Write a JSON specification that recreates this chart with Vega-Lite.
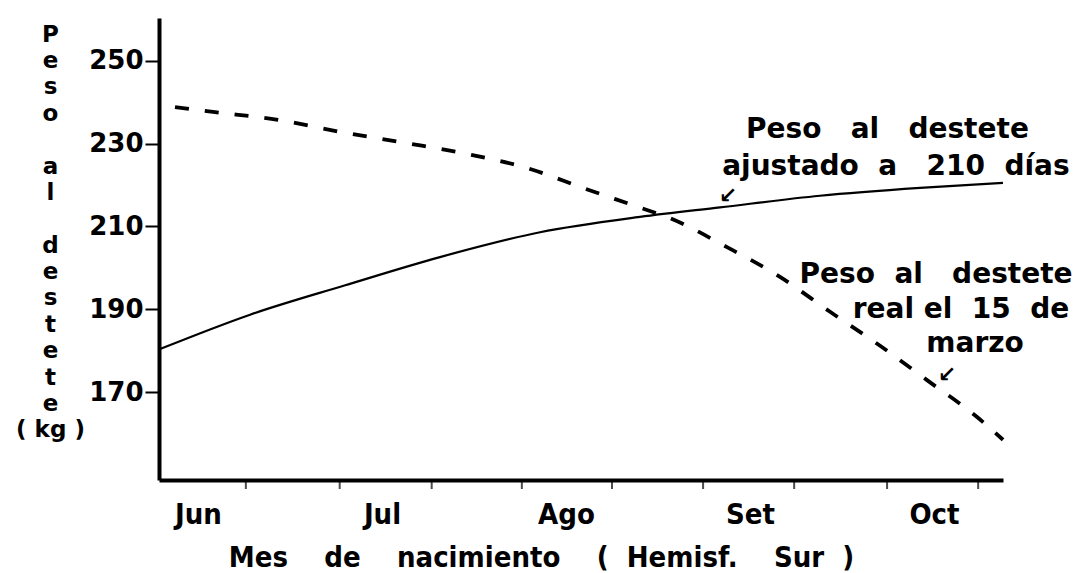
{
  "$schema": "https://vega.github.io/schema/vega-lite/v6.json",
  "width": 844,
  "height": 462,
  "autosize": {"type": "none"},
  "padding": {"left": 159, "top": 18, "right": 75, "bottom": 93},
  "background": "white",
  "config": {"view": {"stroke": null}, "font": "DejaVu Sans"},
  "datasets": {
    "curves": [
      {"serie": "ajustado", "mes": -0.207, "peso": 180.4},
      {"serie": "ajustado", "mes": 0.283, "peso": 188.7},
      {"serie": "ajustado", "mes": 0.8, "peso": 195.8},
      {"serie": "ajustado", "mes": 1.315, "peso": 202.6},
      {"serie": "ajustado", "mes": 1.859, "peso": 208.6},
      {"serie": "ajustado", "mes": 2.402, "peso": 212.3},
      {"serie": "ajustado", "mes": 2.837, "peso": 214.6},
      {"serie": "ajustado", "mes": 3.38, "peso": 217.4},
      {"serie": "ajustado", "mes": 3.924, "peso": 219.3},
      {"serie": "ajustado", "mes": 4.375, "peso": 220.5},
      {"serie": "real", "mes": -0.125, "peso": 238.8},
      {"serie": "real", "mes": 0.092, "peso": 237.6},
      {"serie": "real", "mes": 0.435, "peso": 235.7},
      {"serie": "real", "mes": 0.788, "peso": 232.7},
      {"serie": "real", "mes": 1.136, "peso": 230.1},
      {"serie": "real", "mes": 1.462, "peso": 227.5},
      {"serie": "real", "mes": 1.788, "peso": 224.1},
      {"serie": "real", "mes": 2.092, "peso": 219.3},
      {"serie": "real", "mes": 2.391, "peso": 214.7},
      {"serie": "real", "mes": 2.565, "peso": 212.0},
      {"serie": "real", "mes": 2.875, "peso": 205.0},
      {"serie": "real", "mes": 3.163, "peso": 197.8},
      {"serie": "real", "mes": 3.435, "peso": 189.4},
      {"serie": "real", "mes": 3.707, "peso": 181.2},
      {"serie": "real", "mes": 3.962, "peso": 172.9},
      {"serie": "real", "mes": 4.234, "peso": 164.0},
      {"serie": "real", "mes": 4.375, "peso": 158.5}
    ],
    "minorTicks": [
      {"mes": 0.26}, {"mes": 0.77}, {"mes": 1.27}, {"mes": 1.76}, {"mes": 2.25},
      {"mes": 2.745}, {"mes": 3.24}, {"mes": 3.745}, {"mes": 4.24}
    ],
    "notes": [
      {"mes": 3.747, "peso": 231.3, "texto": "Peso\u00a0\u00a0\u00a0al\u00a0\u00a0\u00a0destete"},
      {"mes": 3.793, "peso": 222.4, "texto": "ajustado\u00a0\u00a0a\u00a0\u00a0\u00a0210\u00a0\u00a0días"},
      {"mes": 4.011, "peso": 196.3, "texto": "Peso\u00a0\u00a0al\u00a0\u00a0\u00a0destete"},
      {"mes": 4.147, "peso": 187.9, "texto": "real\u00a0el\u00a0\u00a015\u00a0\u00a0de"},
      {"mes": 4.223, "peso": 179.7, "texto": "marzo"}
    ],
    "arrows": [
      {"mes": 2.88, "peso": 217.4, "texto": "↙"},
      {"mes": 4.07, "peso": 174.2, "texto": "↙"}
    ]
  },
  "layer": [
    {
      "data": {"name": "curves"},
      "transform": [{"filter": "datum.serie === 'ajustado'"}],
      "mark": {"type": "line", "color": "black", "strokeWidth": 2.2, "interpolate": "monotone"},
      "encoding": {
        "x": {
          "field": "mes",
          "type": "quantitative",
          "scale": {"domain": [-0.212, 4.375], "nice": false, "zero": false},
          "axis": {
            "title": "Mes\u00a0\u00a0\u00a0\u00a0de\u00a0\u00a0\u00a0\u00a0nacimiento\u00a0\u00a0\u00a0\u00a0(\u00a0\u00a0Hemisf.\u00a0\u00a0\u00a0\u00a0Sur\u00a0\u00a0)",
            "values": [0, 1, 2, 3, 4],
            "labelExpr": "['Jun','Jul','Ago','Set','Oct'][datum.value]",
            "ticks": false,
            "tickSize": 0,
            "grid": false,
            "domainColor": "black",
            "domainWidth": 4,
            "labelFont": "Liberation Sans Narrow, DejaVu Sans Condensed, Liberation Sans",
            "labelFontSize": 29,
            "labelFontWeight": "bold",
            "labelColor": "black",
            "labelPadding": 20,
            "labelFlush": false,
            "labelOverlap": false,
            "titleFont": "Liberation Sans Narrow, DejaVu Sans Condensed, Liberation Sans",
            "titleFontSize": 29,
            "titleFontWeight": "bold",
            "titleColor": "black",
            "titleAlign": "center",
            "titleBaseline": "alphabetic",
            "titleX": 382,
            "titleY": 86
          }
        },
        "y": {
          "field": "peso",
          "type": "quantitative",
          "scale": {"domain": [148.8, 260.3], "nice": false, "zero": false},
          "axis": {
            "title": ["P", "e", "s", "o", "\u2800", "a", "l", "\u2800", "d", "e", "s", "t", "e", "t", "e", "(\u00a0kg\u00a0)"],
            "titleAngle": 0,
            "titleAlign": "center",
            "titleBaseline": "alphabetic",
            "titleX": -109,
            "titleY": 23,
            "titleLineHeight": 26.4,
            "titleFont": "DejaVu Sans",
            "titleFontSize": 23,
            "titleFontWeight": "bold",
            "titleColor": "black",
            "values": [170, 190, 210, 230, 250],
            "grid": false,
            "domainColor": "black",
            "domainWidth": 4,
            "tickColor": "black",
            "tickWidth": 2,
            "tickSize": 14,
            "labelFont": "DejaVu Sans",
            "labelFontSize": 26,
            "labelFontWeight": "bold",
            "labelColor": "black",
            "labelPadding": 2
          }
        }
      }
    },
    {
      "data": {"name": "curves"},
      "transform": [{"filter": "datum.serie === 'real'"}],
      "mark": {"type": "line", "color": "black", "strokeWidth": 3.8, "strokeDash": [14, 16], "interpolate": "monotone"},
      "encoding": {
        "x": {"field": "mes", "type": "quantitative"},
        "y": {"field": "peso", "type": "quantitative"}
      }
    },
    {
      "data": {"name": "minorTicks"},
      "mark": {"type": "tick", "orient": "vertical", "color": "black", "size": 10, "thickness": 2, "yOffset": 4},
      "encoding": {
        "x": {"field": "mes", "type": "quantitative"},
        "y": {"datum": 148.8, "type": "quantitative"}
      }
    },
    {
      "data": {"name": "notes"},
      "mark": {"type": "text", "align": "center", "baseline": "alphabetic", "font": "DejaVu Sans", "fontSize": 28, "fontWeight": "bold", "color": "black", "clip": false},
      "encoding": {
        "x": {"field": "mes", "type": "quantitative"},
        "y": {"field": "peso", "type": "quantitative"},
        "text": {"field": "texto"}
      }
    },
    {
      "data": {"name": "arrows"},
      "mark": {"type": "text", "align": "center", "baseline": "middle", "font": "DejaVu Sans", "fontSize": 22, "fontWeight": "bold", "color": "black"},
      "encoding": {
        "x": {"field": "mes", "type": "quantitative"},
        "y": {"field": "peso", "type": "quantitative"},
        "text": {"field": "texto"}
      }
    }
  ]
}
